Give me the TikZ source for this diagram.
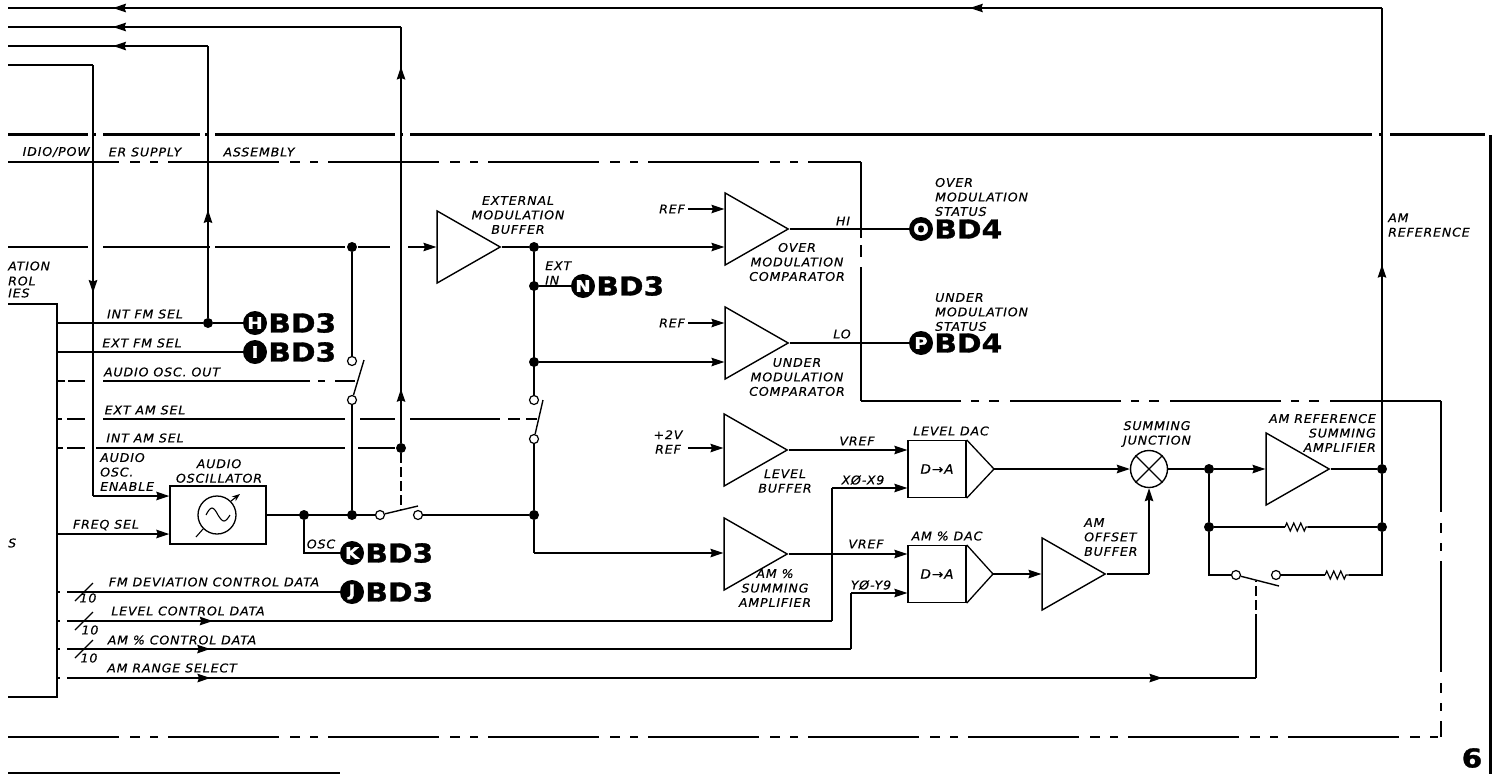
\documentclass[tikz,border=0pt]{standalone}
\usepackage{fontspec}
\usetikzlibrary{arrows.meta,positioning,shapes.geometric,decorations.markings,decorations.pathmorphing}
\setmainfont{DejaVu Sans}
\newfontfamily\letterfont[LetterSpace=7,FakeStretch=1.05,FakeBold=0.3]{DejaVu Sans}
\newfontfamily\tagfont[FakeStretch=1.14,FakeBold=1.2]{DejaVu Sans}
\tikzset{
  lbl/.style={inner sep=0pt, align=center, font=\letterfont\itshape\fontsize{12}{14.5}\selectfont},
  wire/.style={line width=1.4pt},
  fwd/.style={wire, -{Stealth[length=13pt,width=8.5pt,inset=1.5pt]}},
  midarrow/.style={wire, postaction={decorate}, decoration={markings, mark=at position #1 with {\arrow{Stealth[length=13pt,width=8.5pt,inset=1.5pt]}}}},
  amp/.style={draw, line width=1.4pt, isosceles triangle, isosceles triangle stretches, shape border rotate=0, inner sep=0pt, minimum width=72pt, minimum height=63pt, anchor=apex},
  dot/.style={circle, fill=black, inner sep=0pt, minimum size=10pt},
  contact/.style={circle, draw, fill=white, line width=1.2pt, inner sep=0pt, minimum size=9pt},
  tagdot/.style={circle, fill=black, text=white, inner sep=0pt, minimum size=24pt, font=\tagfont\bfseries\fontsize{16}{16}\selectfont},
  tagtxt/.style={inner sep=0pt, font=\tagfont\bfseries\fontsize{26}{26}\selectfont},
  dacbox/.style={draw, line width=1.3pt, minimum width=58pt, minimum height=57pt, inner sep=0pt, font=\letterfont\itshape\fontsize{13}{13}\selectfont},
  framedash/.style={line width=1.4pt, dash pattern=on 111pt off 11pt on 10pt off 10pt on 8pt off 10pt},
  ctrl/.style={line width=1.2pt, dash pattern=on 10pt off 4pt},
  stub/.style={dash pattern=on 3pt off 7pt on 2000pt},
}
\begin{document}
\begin{tikzpicture}[x=1pt, y=-1pt]
  \useasboundingbox (0,0) rectangle (1493,774);
  \fill[white] (0,0) rectangle (1493,774);

  % frame
  \coordinate (frameA) at (8,134);
  \coordinate (frameB) at (1485,134);
  \coordinate (frameC) at (1490,135);
  \coordinate (frameD) at (1490,774);
  \coordinate (frameE) at (8,773);
  \coordinate (frameF) at (340,773);
  \draw[line width=3pt, dash pattern=on 80pt off 5pt on 3pt off 7pt on 97pt off 5pt on 3pt off 7pt on 180pt off 5pt on 3pt off 7pt on 962pt off 7pt on 3pt off 8pt on 100pt off 1pt] (frameA) -- (frameB);
  \draw[line width=3pt] (frameC) -- (frameD);
  \draw[line width=1.6pt] (frameE) -- (frameF);

  % assembly box
  \coordinate (boxA) at (8,162);
  \coordinate (boxB) at (861,162);
  \coordinate (boxC) at (861,401);
  \coordinate (boxD) at (1441,401);
  \coordinate (boxE) at (1441,737);
  \coordinate (boxF) at (8,737);
  \draw[framedash] (boxA) -- (boxB);
  \draw[wire, dash pattern=on 76pt off 7pt on 12pt off 10pt on 400pt] (boxB) -- (boxC);
  \draw[framedash] (boxD) -- (boxC);
  \draw[framedash] (boxD) -- (boxE);
  \draw[framedash] (boxF) -- (boxE);

  % logic block
  \coordinate (blockA) at (8,304);
  \coordinate (blockB) at (57,304);
  \coordinate (blockC) at (57,697);
  \coordinate (blockD) at (8,697);
  \draw[wire] (blockA) -- (blockB) -- (blockC) -- (blockD);

  % amplifiers
  \node[amp] (extbuf) at (502,247) {};
  \node[amp] (overcomp) at (790,229) {};
  \node[amp] (undercomp) at (790,343) {};
  \node[amp] (levbuf) at (789,450) {};
  \node[amp] (sumamp) at (789,554) {};
  \node[amp] (offbuf) at (1107,574) {};
  \node[amp] (refamp) at (1331,469) {};

  % dacs
  \node[dacbox] (levdac) at (937,469) {D→A};
  \node[dacbox] (amdac) at (937,574) {D→A};
  \coordinate (levtip) at (994,469);
  \coordinate (amtip) at (993,574);
  \draw[line width=1.3pt] (levdac.north east) -- (levtip) -- (levdac.south east);
  \draw[line width=1.3pt] (amdac.north east) -- (amtip) -- (amdac.south east);

  % oscillator and summing junction
  \node[draw, line width=1.4pt, minimum width=96pt, minimum height=58pt, inner sep=0pt] (osc) at (218,515) {};
  \node[draw, circle, line width=1.3pt, minimum size=38pt, inner sep=0pt] (oscdial) at (217,515) {};
  \coordinate (dialA) at (196,537);
  \coordinate (dialB) at (240,494);
  \draw[line width=1.1pt] (dialA) -- (oscdial.south west);
  \draw[line width=1.1pt, -{Stealth[length=8pt,width=6pt]}] (oscdial.north east) -- (dialB);
  \draw[line width=1.1pt] (206,515) sin (212,508) cos (218,515) sin (224,521) cos (230,515);
  \node[draw, circle, line width=1.4pt, minimum size=37pt, inner sep=0pt] (sumjunc) at (1149,469) {};
  \draw[line width=1.3pt] (sumjunc.north east) -- (sumjunc.south west);
  \draw[line width=1.3pt] (sumjunc.north west) -- (sumjunc.south east);

  % junction dots
  \foreach \name/\pos in {dotfm/{208,323}, dotin/{352,247}, dotam/{401,448}, dotosc/{304,515}, dotsw/{352,515},
      dotbuf/{534,247}, dotn/{534,286}, dotu/{534,362}, dotsum/{534,515}, dotjunc/{1209,469},
      dotfb/{1209,527}, dotout/{1382,469}, dotres/{1382,527}}
    \node[dot] (\name) at (\pos) {};

  % switches
  \foreach \name/\pos in {swa/{352,361}, swb/{352,400}, swc/{534,400}, swd/{534,439},
      swe/{380,515}, swf/{418,515}, swg/{1236,575}, swh/{1276,575}}
    \node[contact] (\name) at (\pos) {};
  \coordinate (bladeA) at (364,360);
  \coordinate (bladeB) at (543,400);
  \coordinate (bladeC) at (418,506);
  \coordinate (bladeD) at (1279,586);
  \draw[wire] (swb) -- (bladeA);
  \draw[wire] (swd) -- (bladeB);
  \draw[wire] (swe) -- (bladeC);
  \draw[wire] (swg) -- (bladeD);

  % tags
  \foreach \name/\pos/\letter/\sheet in {H/{255,323}/H/BD3, I/{255,352}/I/BD3, K/{352,553}/K/BD3, J/{352,592}/J/BD3,
      N/{583,286}/N/BD3, O/{921,229}/O/BD4, P/{921,343}/P/BD4} {
    \node[tagdot] (tag\name) at (\pos) {\letter};
    \node[tagtxt, right=1pt of tag\name] (sheet\name) {\sheet};
  }

  % top return lines
  \coordinate (topA) at (8,8);
  \coordinate (topB) at (8,27);
  \coordinate (topC) at (8,46);
  \coordinate (topD) at (8,65);
  \coordinate (cornerA) at (1382,8);
  \coordinate (cornerB) at (401,27);
  \coordinate (cornerC) at (208,46);
  \coordinate (cornerD) at (93,65);
  \draw[midarrow=0.437] (dotout) -- (cornerA);
  \draw[midarrow=0.3] (cornerA) -- (topA);
  \draw[midarrow=0.9236] (cornerA) -- (topA);
  \draw[midarrow=0.13] (dotam) -- (cornerB);
  \draw[midarrow=0.905] (dotam) -- (cornerB);
  \draw[midarrow=0.733] (cornerB) -- (topB);
  \draw[midarrow=0.397] (dotfm) -- (cornerC);
  \draw[midarrow=0.475] (cornerC) -- (topC);
  \coordinate (enable) at (93,496);
  \draw[wire] (topD) -- (cornerD);
  \draw[midarrow=0.529] (cornerD) -- (enable);
  \draw[fwd] (enable) -- (enable -| osc.west);

  % left hand lines
  \coordinate (lineA) at (57,323);
  \coordinate (lineB) at (57,352);
  \coordinate (lineC) at (57,381);
  \coordinate (lineD) at (57,419);
  \coordinate (lineE) at (57,448);
  \coordinate (lineF) at (57,534);
  \coordinate (lineG) at (8,247);
  \coordinate (lineH) at (357,381);
  \coordinate (lineI) at (537,419);
  \draw[wire] (lineA) -- (dotfm) -- (tagH);
  \draw[wire] (lineB) -- (tagI);
  \draw[wire, dash pattern=on 8pt off 3pt on 17pt off 18pt on 207pt off 8pt on 7pt off 10pt on 20pt] (lineC) -- (lineH);
  \draw[wire, dash pattern=on 5pt off 5pt on 18pt off 18pt on 242pt off 15pt on 35pt off 15pt on 90pt off 8pt on 12pt off 6pt on 12pt off 5pt on 10pt] (lineD) -- (lineI);
  \draw[wire, dash pattern=on 6pt off 4pt on 18pt off 11pt on 249pt off 13pt on 37pt off 6pt] (lineE) -- (dotam);
  \draw[fwd] (lineF) -- (lineF -| osc.west);
  \coordinate (lineJ) at (410,247);
  \draw[wire, dash pattern=on 80pt off 15pt on 107pt off 5pt on 130pt off 13pt on 32pt off 18pt] (lineG) -- (lineJ);
  \draw[fwd] (lineJ) -- (extbuf.lower side);

  % oscillator output
  \draw[wire] (osc.east |- dotsw) -- (swe);
  \draw[wire] (swf) -- (dotsum);
  \draw[wire] (swb) -- (dotsw);
  \draw[wire] (dotin) -- (swa);
  \coordinate (oscbend) at (304,553);
  \draw[wire] (dotosc) -- (oscbend) -- (tagK);
  \coordinate (dashA) at (401,510);
  \draw[ctrl] (dotam) -- (dashA);

  % data lines
  \coordinate (dataJ) at (57,592);
  \coordinate (dataL) at (57,621);
  \coordinate (dataA) at (57,649);
  \coordinate (dataR) at (57,678);
  \coordinate (bendLa) at (832,621);
  \coordinate (bendLb) at (832,488);
  \coordinate (bendAa) at (851,649);
  \coordinate (bendAb) at (851,593);
  \coordinate (bendRa) at (1256,678);
  \coordinate (bendRb) at (1256,624);
  \coordinate (bendRc) at (1256,581);
  \draw[wire, stub] (dataJ) -- (tagJ);
  \draw[midarrow=0.201, stub] (dataL) -- (bendLa);
  \draw[wire] (bendLa) -- (bendLb);
  \draw[fwd] (bendLb) -- (bendLb -| levdac.west);
  \draw[midarrow=0.193, stub] (dataA) -- (bendAa);
  \draw[wire] (bendAa) -- (bendAb);
  \draw[fwd] (bendAb) -- (bendAb -| amdac.west);
  \draw[midarrow=0.128, stub] (dataR) -- (bendRa);
  \draw[midarrow=0.922, stub] (dataR) -- (bendRa);
  \draw[wire] (bendRa) -- (bendRb);
  \draw[ctrl] (bendRb) -- (bendRc);
  \foreach \name/\yy in {slashJ/592, slashL/621, slashA/649} {
    \coordinate (\name a) at (75,\yy+9);
    \coordinate (\name b) at (93,\yy-9);
    \draw[line width=1.1pt] (\name a) -- (\name b);
  }

  % buffer outputs
  \draw[wire] (extbuf.apex) -- (dotbuf);
  \draw[wire] (dotbuf) -- (swc);
  \draw[wire] (swd) -- (dotsum);
  \coordinate (sumbend) at (534,553);
  \draw[wire] (dotsum) -- (sumbend);
  \draw[fwd] (sumbend) -- (sumbend -| sumamp.lower side);
  \draw[wire] (dotn) -- (tagN);
  \draw[fwd] (dotbuf) -- (dotbuf -| overcomp.lower side);
  \draw[fwd] (dotu) -- (dotu -| undercomp.lower side);
  \draw[wire] (overcomp.apex) -- (tagO);
  \draw[wire] (undercomp.apex) -- (tagP);
  \coordinate (refA) at (688,209);
  \coordinate (refB) at (688,323);
  \coordinate (refC) at (688,448);
  \draw[fwd] (refA) -- (refA -| overcomp.lower side);
  \draw[fwd] (refB) -- (refB -| undercomp.lower side);
  \draw[fwd] (refC) -- (refC -| levbuf.lower side);
  \draw[fwd] (levbuf.apex) -- (levbuf.apex -| levdac.west);
  \draw[fwd] (sumamp.apex) -- (sumamp.apex -| amdac.west);

  % summing
  \draw[fwd] (levtip) -- (sumjunc.west);
  \draw[fwd] (amtip) -- (amtip -| offbuf.lower side);
  \coordinate (offbend) at (1149,574);
  \draw[wire] (offbuf.apex) -- (offbend);
  \draw[fwd] (offbend) -- (sumjunc.south);
  \draw[wire] (sumjunc.east) -- (dotjunc);
  \draw[fwd] (dotjunc) -- (dotjunc -| refamp.lower side);
  \draw[wire] (refamp.apex) -- (dotout);

  % feedback
  \coordinate (resA) at (1285,527);
  \coordinate (resB) at (1308,527);
  \coordinate (resC) at (1325,575);
  \coordinate (resD) at (1349,575);
  \coordinate (cornerE) at (1209,575);
  \coordinate (cornerF) at (1382,575);
  \draw[wire] (dotjunc) -- (dotfb) -- (cornerE) -- (swg);
  \draw[wire] (dotout) -- (dotres) -- (cornerF) -- (resD);
  \draw[wire] (dotfb) -- (resA);
  \draw[wire] (resB) -- (dotres);
  \draw[wire] (swh) -- (resC);
  \draw[line width=1.2pt, decorate, decoration={zigzag, segment length=7pt, amplitude=4pt}] (resA) -- (resB);
  \draw[line width=1.2pt, decorate, decoration={zigzag, segment length=7pt, amplitude=4pt}] (resC) -- (resD);

  % labels
  \node[lbl, anchor=east] (lblA) at (90,152) {IDIO/POW};
  \node[lbl] (lblB) at (145,152) {ER SUPPLY};
  \node[lbl] (lblC) at (259,152) {ASSEMBLY};
  \node[lbl, anchor=west] (lblD) at (8,266) {ATION};
  \node[lbl, anchor=west] (lblE) at (8,281) {ROL};
  \node[lbl, anchor=west] (lblF) at (8,293) {IES};
  \node[lbl, anchor=west] (lblG) at (8,543) {S};
  \node[lbl] (lblintfm) at (145,314) {INT FM SEL};
  \node[lbl] (lblextfm) at (142,343) {EXT FM SEL};
  \node[lbl] (lblaudio) at (162,372) {AUDIO OSC. OUT};
  \node[lbl] (lblextam) at (145,410) {EXT AM SEL};
  \node[lbl] (lblintam) at (145,438) {INT AM SEL};
  \node[lbl, align=left, anchor=west] (lblenable) at (100,472) {AUDIO\\OSC.\\ENABLE};
  \node[lbl] (lblosc) at (219,471) {AUDIO\\OSCILLATOR};
  \node[lbl] (lblfreq) at (106,525) {FREQ SEL};
  \node[lbl] (lblk) at (321,544) {OSC};
  \node[lbl] (lblfmdata) at (214,582) {FM DEVIATION CONTROL DATA};
  \node[lbl] (lbllevdata) at (188,611) {LEVEL CONTROL DATA};
  \node[lbl] (lblamdata) at (182,640) {AM \% CONTROL DATA};
  \node[lbl] (lblrange) at (172,668) {AM RANGE SELECT};
  \node[lbl] (lblJten) at (88,598) {10};
  \node[lbl] (lblLten) at (90,630) {10};
  \node[lbl] (lblAten) at (89,658) {10};
  \node[lbl] (lblext) at (518,215) {EXTERNAL\\MODULATION\\BUFFER};
  \node[lbl, align=left, anchor=west] (lblextin) at (545,273) {EXT\\IN};
  \node[lbl] (lblrefa) at (672,209) {REF};
  \node[lbl] (lblrefb) at (672,323) {REF};
  \node[lbl] (lblrefc) at (668,442) {+2V\\REF};
  \node[lbl] (lblhi) at (843,221) {HI};
  \node[lbl] (lbllo) at (842,334) {LO};
  \node[lbl] (lblover) at (797,262) {OVER\\MODULATION\\COMPARATOR};
  \node[lbl] (lblunder) at (797,377) {UNDER\\MODULATION\\COMPARATOR};
  \node[lbl, align=left, anchor=west] (lblovers) at (935,197) {OVER\\MODULATION\\STATUS};
  \node[lbl, align=left, anchor=west] (lblunders) at (935,312) {UNDER\\MODULATION\\STATUS};
  \node[lbl] (lbllevbuf) at (785,481) {LEVEL\\BUFFER};
  \node[lbl] (lblsumamp) at (775,588) {AM \%\\SUMMING\\AMPLIFIER};
  \node[lbl] (lblvrefa) at (857,441) {VREF};
  \node[lbl] (lblvrefb) at (866,544) {VREF};
  \node[lbl] (lblx) at (863,480) {XØ-X9};
  \node[lbl] (lbly) at (871,585) {YØ-Y9};
  \node[lbl] (lbllevdac) at (951,431) {LEVEL DAC};
  \node[lbl] (lblamdac) at (947,536) {AM \% DAC};
  \node[lbl] (lbljunc) at (1157,434) {SUMMING\\JUNCTION};
  \node[lbl, align=right, anchor=east] (lblamref) at (1376,433) {AM REFERENCE\\SUMMING\\AMPLIFIER};
  \node[lbl, align=left, anchor=west] (lbloff) at (1084,537) {AM\\OFFSET\\BUFFER};
  \node[lbl, align=left, anchor=west] (lblamout) at (1388,225) {AM\\REFERENCE};
  \node[tagtxt] (pagenum) at (1472,758) {6};
\end{tikzpicture}
\end{document}
